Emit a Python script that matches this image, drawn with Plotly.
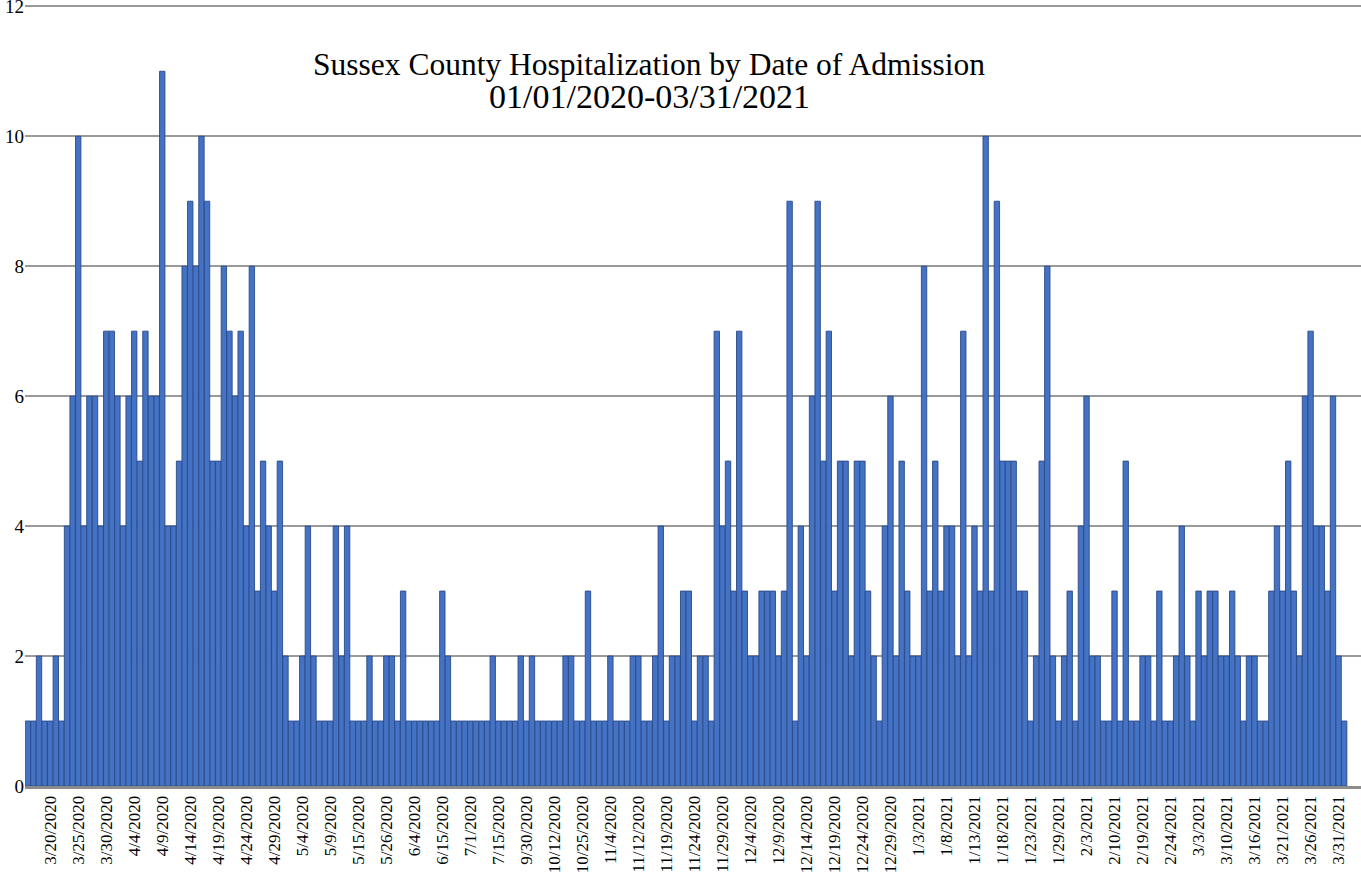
import plotly.graph_objects as go

# Daily hospital admissions (one bar per admission date category)
admissions = [
    1, 1, 2, 1, 1, 2, 1, 4, 6, 10,
    4, 6, 6, 4, 7, 7, 6, 4, 6, 7,
    5, 7, 6, 6, 11, 4, 4, 5, 8, 9,
    8, 10, 9, 5, 5, 8, 7, 6, 7, 4,
    8, 3, 5, 4, 3, 5, 2, 1, 1, 2,
    4, 2, 1, 1, 1, 4, 2, 4, 1, 1,
    1, 2, 1, 1, 2, 2, 1, 3, 1, 1,
    1, 1, 1, 1, 3, 2, 1, 1, 1, 1,
    1, 1, 1, 2, 1, 1, 1, 1, 2, 1,
    2, 1, 1, 1, 1, 1, 2, 2, 1, 1,
    3, 1, 1, 1, 2, 1, 1, 1, 2, 2,
    1, 1, 2, 4, 1, 2, 2, 3, 3, 1,
    2, 2, 1, 7, 4, 5, 3, 7, 3, 2,
    2, 3, 3, 3, 2, 3, 9, 1, 4, 2,
    6, 9, 5, 7, 3, 5, 5, 2, 5, 5,
    3, 2, 1, 4, 6, 2, 5, 3, 2, 2,
    8, 3, 5, 3, 4, 4, 2, 7, 2, 4,
    3, 10, 3, 9, 5, 5, 5, 3, 3, 1,
    2, 5, 8, 2, 1, 2, 3, 1, 4, 6,
    2, 2, 1, 1, 3, 1, 5, 1, 1, 2,
    2, 1, 3, 1, 1, 2, 4, 2, 1, 3,
    2, 3, 3, 2, 2, 3, 2, 1, 2, 2,
    1, 1, 3, 4, 3, 5, 3, 2, 6, 7,
    4, 4, 3, 6, 2, 1,
]

# Labels shown on the axis (every 5th category, starting with the 5th)
tick_labels = [
    "3/20/2020", "3/25/2020", "3/30/2020", "4/4/2020", "4/9/2020",
    "4/14/2020", "4/19/2020", "4/24/2020", "4/29/2020", "5/4/2020",
    "5/9/2020", "5/15/2020", "5/26/2020", "6/4/2020", "6/15/2020",
    "7/1/2020", "7/15/2020", "9/30/2020", "10/12/2020", "10/25/2020",
    "11/4/2020", "11/12/2020", "11/19/2020", "11/24/2020", "11/29/2020",
    "12/4/2020", "12/9/2020", "12/14/2020", "12/19/2020", "12/24/2020",
    "12/29/2020", "1/3/2021", "1/8/2021", "1/13/2021", "1/18/2021",
    "1/23/2021", "1/29/2021", "2/3/2021", "2/10/2021", "2/19/2021",
    "2/24/2021", "3/3/2021", "3/10/2021", "3/16/2021", "3/21/2021",
    "3/26/2021", "3/31/2021",
]

y_ticks = [0, 2, 4, 6, 8, 10, 12]

title_line1 = "Sussex County Hospitalization by Date of Admission"
title_line2 = "01/01/2020-03/31/2021"

positions = list(range(len(admissions)))
tick_positions = positions[4::5][:len(tick_labels)]

SERIF = "Liberation Serif, Times New Roman, serif"

fig = go.Figure(
    go.Bar(
        x=positions,
        y=admissions,
        marker=dict(color="#4472C4", line=dict(color="#2A4A88", width=0.9)),
        hoverinfo="y",
    )
)

fig.add_annotation(
    text=title_line1, xref="paper", yref="paper",
    x=(649 - 25) / 1336, y=1 - (65 - 5) / 781,
    xanchor="center", yanchor="middle", showarrow=False,
    font=dict(family=SERIF, size=31.5, color="black"),
)
fig.add_annotation(
    text=title_line2, xref="paper", yref="paper",
    x=(649 - 25) / 1336, y=1 - (97 - 5) / 781,
    xanchor="center", yanchor="middle", showarrow=False,
    font=dict(family=SERIF, size=34, color="black"),
)

fig.update_layout(
    width=1361,
    height=875,
    paper_bgcolor="white",
    plot_bgcolor="white",
    margin=dict(l=25, r=0, t=5, b=89),
    bargap=0.04,
    showlegend=False,
    xaxis=dict(
        range=[-0.5, 238],
        tickmode="array",
        tickvals=tick_positions,
        ticktext=tick_labels,
        tickangle=-90,
        tickfont=dict(family=SERIF, size=17, color="black"),
        showgrid=False,
        zeroline=False,
        showline=True,
        linecolor="#8C8C8C",
        linewidth=3,
        ticks="",
        automargin=False,
        ticklabeloverflow="allow",
    ),
    yaxis=dict(
        range=[0, 12.02],
        tickvals=y_ticks,
        tickfont=dict(family=SERIF, size=19, color="black"),
        showgrid=True,
        gridcolor="#9A9A9A",
        gridwidth=2,
        zeroline=False,
        showline=False,
        ticks="",
        ticklabelstandoff=0,
        automargin=False,
        ticklabeloverflow="allow",
    ),
)

fig.write_html(
    "out.html",
    config={"displayModeBar": False},
    post_script="document.body.style.margin='0px';document.body.style.overflow='hidden';",
)
